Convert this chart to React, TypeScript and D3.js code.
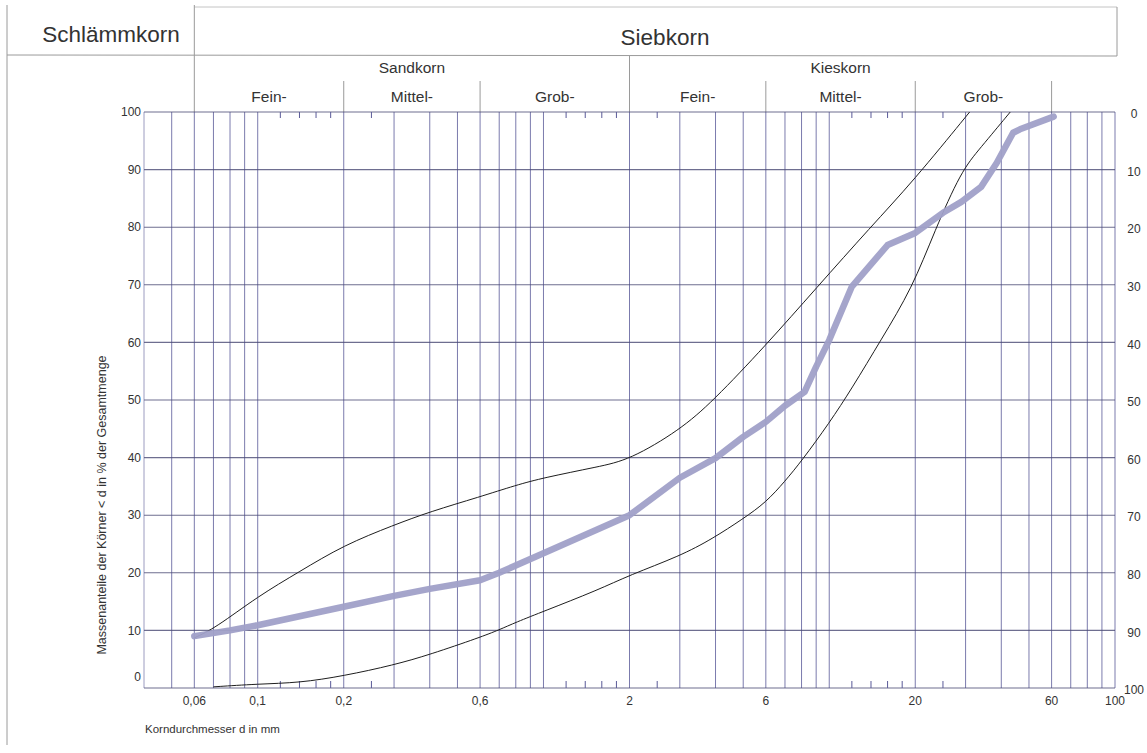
import { useRef, useEffect } from 'react';
import * as d3 from 'd3';

// Probe: Korndurchmesser d in mm / Massenanteil < d in %
const sampleSizes = [0.06, 0.08, 0.1, 0.2, 0.3, 0.4, 0.6, 0.7, 1, 2, 3, 4, 5, 6, 7, 8.2, 9, 10, 12, 16, 20, 25, 29, 34, 38.5, 44, 46.5, 61];
const samplePassing = [9.0, 10.0, 10.9, 14.1, 16.0, 17.2, 18.7, 20.0, 23.4, 30.0, 36.5, 39.9, 43.6, 46.2, 49.0, 51.4, 55.8, 60.4, 69.7, 76.9, 79.0, 82.5, 84.4, 87.0, 91.1, 96.4, 97.0, 99.2];

// Grenzlinien (Sieblinienbereich)
const upperSizes = [0.06, 0.071, 0.1, 0.14, 0.2, 0.3, 0.4, 0.6, 0.8, 1, 1.55, 2, 3, 3.9, 6, 9, 14, 19.6, 31];
const upperPassing = [8.7, 10.4, 15.9, 20.2, 24.8, 28.3, 30.6, 33.2, 35.2, 36.5, 38.4, 39.6, 44.8, 49.7, 59.5, 69.4, 80.1, 87.9, 100];

const lowerSizes = [0.07, 0.1, 0.14, 0.2, 0.3, 0.4, 0.6, 0.7, 0.8, 1, 1.55, 2, 3, 3.9, 5, 6, 7, 8, 10, 12, 15.2, 19.5, 23.4, 29, 33.6, 43];
const lowerPassing = [0.2, 0.7, 0.9, 2.1, 4.0, 5.8, 8.8, 10.1, 11.4, 13.3, 17.0, 19.6, 22.9, 25.9, 29.4, 32.2, 35.9, 39.4, 46.0, 52.0, 60.5, 69.4, 79.4, 89.8, 93.6, 100];

// Raster
const gridSizes = [0.05, 0.06, 0.07, 0.08, 0.09, 0.1, 0.2, 0.3, 0.4, 0.5, 0.6, 0.7, 0.8, 0.9, 1, 2, 3, 4, 5, 6, 7, 8, 9, 10, 20, 30, 40, 50, 60, 70, 80, 90, 100];
const minorTicks = [0.12, 0.14, 0.16, 0.18, 0.25, 1.2, 1.4, 1.6, 1.8, 2.5, 12, 14, 16, 18, 25];
const xTickValues = [0.06, 0.1, 0.2, 0.6, 2, 6, 20, 60, 100];
const xTickLabels = ['0,06', '0,1', '0,2', '0,6', '2', '6', '20', '60', '100'];
const yTicks = [0, 10, 20, 30, 40, 50, 60, 70, 80, 90, 100];

// Kornfraktionen
const fractionBounds = [0.06, 0.2, 0.6, 2, 6, 20, 60];
const fractionNames = ['Fein-', 'Mittel-', 'Grob-', 'Fein-', 'Mittel-', 'Grob-'];
const groupNames = ['Sandkorn', 'Kieskorn'];
const groupBounds = [[0.06, 2], [2, 60]];

const FONT = '"Liberation Sans", Arial, sans-serif';

export default function App() {
    const ref = useRef<SVGSVGElement>(null);

    useEffect(() => {
        if (!ref.current) return;
        const svg = d3.select(ref.current);
        svg.selectAll('*').remove();

        const x = d3.scaleLog().domain([0.04, 100]).range([144, 1115]);
        const y = d3.scaleLinear().domain([0, 100]).range([688, 112]);
        const top = y(100);
        const bottom = y(0);
        const left = x.range()[0];
        const right = x.range()[1];

        const gridColor = '#5a5a98';
        const frameColor = '#9a9a9a';

        // Kopfzeile
        const head = svg.append('g').attr('stroke', frameColor).attr('stroke-width', 1);
        head.append('line').attr('x1', 7).attr('x2', 7).attr('y1', 5).attr('y2', 745);
        head.append('line').attr('x1', x(0.06)).attr('x2', 1117).attr('y1', 7).attr('y2', 7).attr('stroke', '#c4c4c4');
        head.append('line').attr('x1', 7).attr('x2', 1117).attr('y1', 55).attr('y2', 56);
        head.append('line').attr('x1', 1117).attr('x2', 1117).attr('y1', 7).attr('y2', 56);
        head.append('line').attr('x1', x(0.06)).attr('x2', x(0.06)).attr('y1', 5).attr('y2', top);
        head.append('line').attr('x1', x(2)).attr('x2', x(2)).attr('y1', 56).attr('y2', top);
        head.selectAll('.sub')
            .data(fractionBounds.filter(d => d !== 0.06 && d !== 2))
            .enter()
            .append('line')
            .attr('x1', d => x(d))
            .attr('x2', d => x(d))
            .attr('y1', 81)
            .attr('y2', top);

        svg.append('text')
            .attr('x', 111)
            .attr('y', 42)
            .attr('text-anchor', 'middle')
            .attr('font-family', FONT)
            .attr('font-size', 22.5)
            .attr('fill', '#333')
            .text('Schlämmkorn');

        svg.append('text')
            .attr('x', 665)
            .attr('y', 45)
            .attr('text-anchor', 'middle')
            .attr('font-family', FONT)
            .attr('font-size', 22.5)
            .attr('fill', '#333')
            .text('Siebkorn');

        svg.selectAll('.group')
            .data(groupNames)
            .enter()
            .append('text')
            .attr('x', (_, i) => (x(groupBounds[i][0]) + x(groupBounds[i][1])) / 2)
            .attr('y', 73)
            .attr('text-anchor', 'middle')
            .attr('font-family', FONT)
            .attr('font-size', 15.5)
            .attr('fill', '#333')
            .text(d => d);

        svg.selectAll('.fraction')
            .data(fractionNames)
            .enter()
            .append('text')
            .attr('x', (_, i) => (x(fractionBounds[i]) + x(fractionBounds[i + 1])) / 2)
            .attr('y', 102)
            .attr('text-anchor', 'middle')
            .attr('font-family', FONT)
            .attr('font-size', 15.5)
            .attr('fill', '#333')
            .text(d => d);

        // Raster
        const grid = svg.append('g');
        grid.selectAll('.v')
            .data(gridSizes)
            .enter()
            .append('line')
            .attr('x1', d => x(d))
            .attr('x2', d => x(d))
            .attr('y1', top)
            .attr('y2', bottom)
            .attr('stroke', gridColor)
            .attr('stroke-opacity', 0.8)
            .attr('stroke-width', 1);

        grid.selectAll('.h')
            .data(yTicks)
            .enter()
            .append('line')
            .attr('x1', left)
            .attr('x2', right)
            .attr('y1', d => y(d))
            .attr('y2', d => y(d))
            .attr('stroke', '#4a4a74')
            .attr('stroke-opacity', 0.8)
            .attr('stroke-width', 1.1);

        grid.append('line')
            .attr('x1', left).attr('x2', left)
            .attr('y1', top).attr('y2', bottom)
            .attr('stroke', gridColor).attr('stroke-opacity', 0.6);

        grid.selectAll('.tt')
            .data(minorTicks)
            .enter()
            .append('line')
            .attr('x1', d => x(d)).attr('x2', d => x(d))
            .attr('y1', top).attr('y2', top + 6)
            .attr('stroke', gridColor);

        grid.selectAll('.tb')
            .data(minorTicks)
            .enter()
            .append('line')
            .attr('x1', d => x(d)).attr('x2', d => x(d))
            .attr('y1', bottom).attr('y2', bottom - 7)
            .attr('stroke', gridColor);

        // Achsbeschriftung
        svg.selectAll('.yl')
            .data(yTicks)
            .enter()
            .append('text')
            .attr('x', left - 3)
            .attr('y', d => (d === 0 ? y(d) - 11 : y(d)))
            .attr('dy', '0.35em')
            .attr('text-anchor', 'end')
            .attr('font-family', FONT)
            .attr('font-size', 12)
            .attr('fill', '#333')
            .text(d => d);

        svg.selectAll('.yr')
            .data(yTicks)
            .enter()
            .append('text')
            .attr('x', 1134)
            .attr('y', d => y(100 - d) + 2)
            .attr('dy', '0.35em')
            .attr('text-anchor', 'middle')
            .attr('font-family', FONT)
            .attr('font-size', 12)
            .attr('fill', '#333')
            .text(d => d);

        svg.selectAll('.xl')
            .data(xTickValues)
            .enter()
            .append('text')
            .attr('x', d => x(d))
            .attr('y', bottom + 17)
            .attr('text-anchor', 'middle')
            .attr('font-family', FONT)
            .attr('font-size', 12)
            .attr('fill', '#333')
            .text((_, i) => xTickLabels[i]);

        svg.append('text')
            .attr('transform', 'translate(106,505) rotate(-90)')
            .attr('text-anchor', 'middle')
            .attr('font-family', FONT)
            .attr('font-size', 12.5)
            .attr('fill', '#333')
            .text('Massenanteile der Körner < d in % der Gesamtmenge');

        svg.append('text')
            .attr('x', 145)
            .attr('y', 733)
            .attr('font-family', FONT)
            .attr('font-size', 11.5)
            .attr('fill', '#333')
            .text('Korndurchmesser d  in mm');

        // Kurven
        const smooth = d3.line<[number, number]>()
            .x(d => x(d[0]))
            .y(d => y(d[1]))
            .curve(d3.curveBasis);

        const straight = d3.line<[number, number]>()
            .x(d => x(d[0]))
            .y(d => y(d[1]));

        svg.append('path')
            .datum(upperSizes.map((d, i) => [d, upperPassing[i]] as [number, number]))
            .attr('d', smooth)
            .attr('fill', 'none')
            .attr('stroke', '#1e1e1e')
            .attr('stroke-width', 1);

        svg.append('path')
            .datum(lowerSizes.map((d, i) => [d, lowerPassing[i]] as [number, number]))
            .attr('d', smooth)
            .attr('fill', 'none')
            .attr('stroke', '#1e1e1e')
            .attr('stroke-width', 1);

        svg.append('path')
            .datum(sampleSizes.map((d, i) => [d, samplePassing[i]] as [number, number]))
            .attr('d', straight)
            .attr('fill', 'none')
            .attr('stroke', '#a0a0c8')
            .attr('stroke-opacity', 0.95)
            .attr('stroke-width', 6.5)
            .attr('stroke-linejoin', 'round')
            .attr('stroke-linecap', 'round');
    }, []);

    return (
        <svg
            ref={ref}
            width={1147}
            height={753}
            style={{ position: 'absolute', left: 0, top: 0, background: '#fff' }}
        />
    );
}
